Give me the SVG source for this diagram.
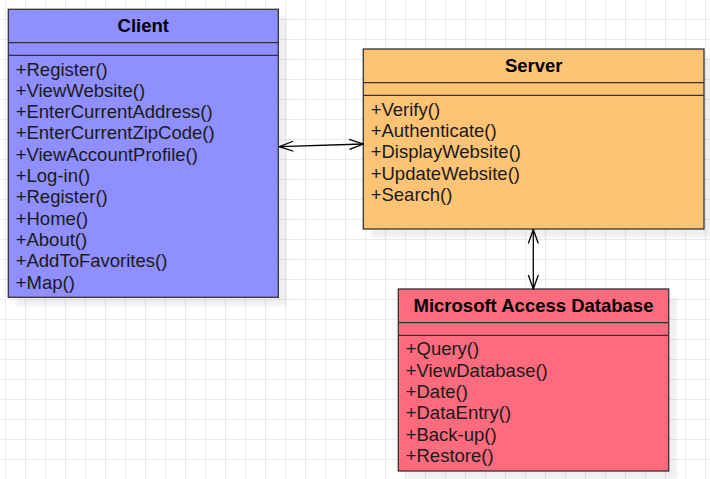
<svg xmlns="http://www.w3.org/2000/svg" width="710" height="479" viewBox="0 0 710 479">
<defs>
<pattern id="grid" x="5" y="-1" width="20" height="20" patternUnits="userSpaceOnUse">
<path d="M0.5 0 V20 M0 0.5 H20" fill="none" stroke="#ebebeb" stroke-width="1"/>
</pattern>
<filter id="blur" x="-5%" y="-5%" width="110%" height="110%"><feGaussianBlur stdDeviation="1.5"/></filter>
<marker id="open" viewBox="0 0 16 12" refX="15" refY="6" markerWidth="16" markerHeight="12" markerUnits="userSpaceOnUse" orient="auto-start-reverse">
<path d="M1 1 L15 6 L1 11" fill="none" stroke="#000" stroke-width="1.3"/>
</marker>
</defs>
<style>
.box{stroke:#333;stroke-width:1.3}
.sep{stroke:#333;stroke-width:1.3;fill:none}
.shadow{fill:#000;opacity:0.06;filter:url(#blur)}
.title{font-family:"Liberation Sans",Arial,sans-serif;font-size:18.5px;font-weight:bold;fill:#000;text-anchor:middle}
.item{font-family:"Liberation Sans",Arial,sans-serif;font-size:18.5px;fill:#1a1a1a}
.conn{stroke:#000;stroke-width:1.3;fill:none}
</style>
<rect width="710" height="479" fill="#fff"/>
<rect width="710" height="479" fill="url(#grid)"/>

<g id="client">
<rect class="shadow" x="16.5" y="17.5" width="270" height="288"/>
<rect class="box" x="8.3" y="9.3" width="270" height="288" fill="#8f8fff"/>
<path class="sep" d="M8.3 42.7 H278.3 M8.3 55.3 H278.3"/>
<text class="title" x="143.3" y="32.3">Client</text>
<text class="item" x="15.7" y="75.5">+Register()</text>
<text class="item" x="15.7" y="96.8">+ViewWebsite()</text>
<text class="item" x="15.7" y="118.1">+EnterCurrentAddress()</text>
<text class="item" x="15.7" y="139.4">+EnterCurrentZipCode()</text>
<text class="item" x="15.7" y="160.7">+ViewAccountProfile()</text>
<text class="item" x="15.7" y="182.0">+Log-in()</text>
<text class="item" x="15.7" y="203.3">+Register()</text>
<text class="item" x="15.7" y="224.6">+Home()</text>
<text class="item" x="15.7" y="245.9">+About()</text>
<text class="item" x="15.7" y="267.2">+AddToFavorites()</text>
<text class="item" x="15.7" y="288.5">+Map()</text>
</g>

<g id="server">
<rect class="shadow" x="371.5" y="57.3" width="340.7" height="180"/>
<rect class="box" x="363.3" y="49" width="340.7" height="180" fill="#ffc375"/>
<path class="sep" d="M363.3 82.7 H704 M363.3 95.3 H704"/>
<text class="title" x="533.7" y="71.7">Server</text>
<text class="item" x="370.7" y="116">+Verify()</text>
<text class="item" x="370.7" y="137.2">+Authenticate()</text>
<text class="item" x="370.7" y="158.4">+DisplayWebsite()</text>
<text class="item" x="370.7" y="179.6">+UpdateWebsite()</text>
<text class="item" x="370.7" y="200.8">+Search()</text>
</g>

<g id="database">
<rect class="shadow" x="406.5" y="297.3" width="270.4" height="182"/>
<rect class="box" x="398.3" y="289" width="270.4" height="182" fill="#ff6b7e"/>
<path class="sep" d="M398.3 322.7 H668.7 M398.3 335.3 H668.7"/>
<text class="title" x="533.5" y="311.7">Microsoft Access Database</text>
<text class="item" x="405.7" y="355.3">+Query()</text>
<text class="item" x="405.7" y="376.6">+ViewDatabase()</text>
<text class="item" x="405.7" y="397.9">+Date()</text>
<text class="item" x="405.7" y="419.2">+DataEntry()</text>
<text class="item" x="405.7" y="440.5">+Back-up()</text>
<text class="item" x="405.7" y="461.8">+Restore()</text>
</g>

<g id="connectors">
<path class="conn" d="M279.3 146.7 L363.3 144" marker-start="url(#open)" marker-end="url(#open)"/>
<path class="conn" d="M533.3 229.5 L533.3 289" marker-start="url(#open)" marker-end="url(#open)"/>
</g>
</svg>
